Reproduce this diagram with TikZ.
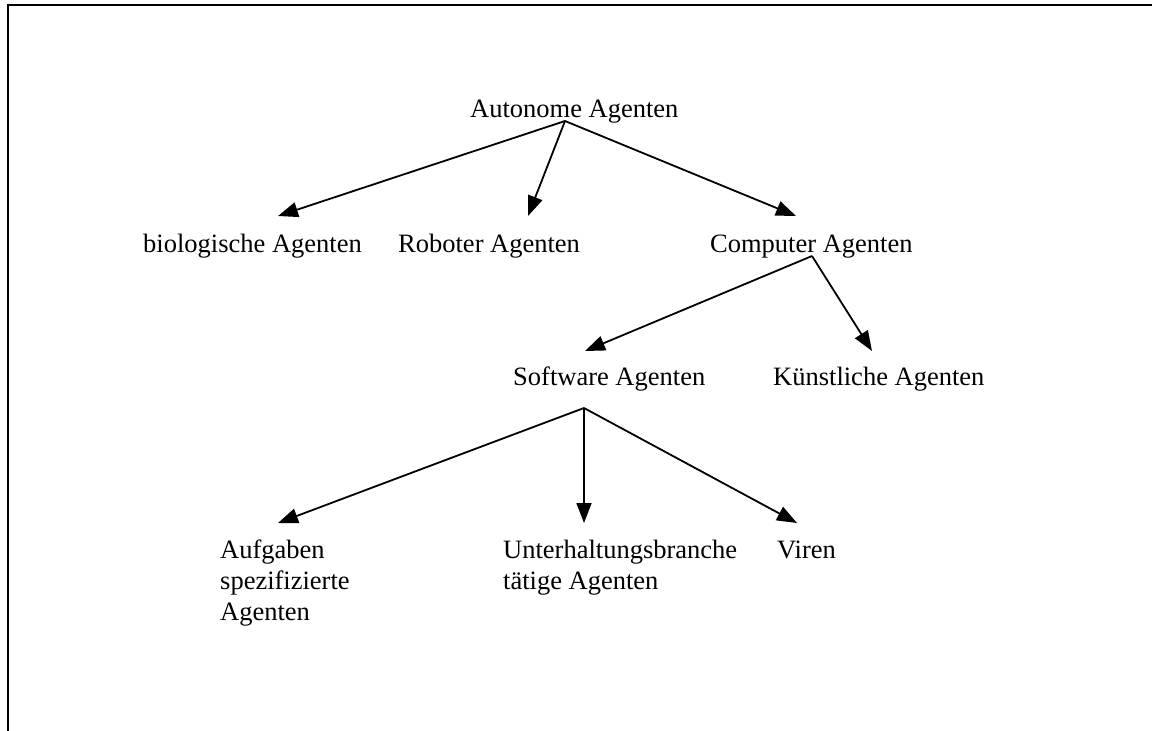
\documentclass[tikz,border=0pt]{standalone}
\usepackage{fontspec}
\setmainfont{Liberation Serif}
\usetikzlibrary{arrows.meta}
\begin{document}
\begin{tikzpicture}[x=1pt,y=-1pt,
  label/.style={anchor=base west,inner sep=0pt,align=left,
    font=\fontsize{26.5}{31}\selectfont},
  arr/.style={line width=1.8pt,-{Triangle[length=20pt,width=15pt]}},
  frame/.style={line width=2pt}]
\useasboundingbox (0,0) rectangle (1152,731);
% open frame: top and left edges only
\draw[frame] (8,731) -- (8,5) -- (1152,5);

% text nodes (multi-line labels sit on the baseline of their last line)
\node[label] (auto) at (470,117) {Autonome Agenten};
\node[label] (bio)  at (143,252) {biologische Agenten};
\node[label] (rob)  at (398,252) {Roboter Agenten};
\node[label] (comp) at (710,252) {Computer Agenten};
\node[label] (soft) at (513,385) {Software Agenten};
\node[label] (kuen) at (773,385) {Künstliche Agenten};
\node[label] (aufg) at (220,620) {Aufgaben\\spezifizierte\\Agenten};
\node[label] (unt)  at (503,589) {Unterhaltungsbranche\\tätige Agenten};
\node[label] (vir)  at (777,558) {Viren};

% branching points and arrow tips
\coordinate (autoJ) at (565,121);
\coordinate (compJ) at (812,256);
\coordinate (softJ) at (584,408);
\coordinate (bioT)  at (278,216);
\coordinate (robT)  at (528,216);
\coordinate (compT) at (796,216);
\coordinate (softT) at (585,351);
\coordinate (kuenT) at (872,351);
\coordinate (aufgT) at (278,523);
\coordinate (untT)  at (584,523);
\coordinate (virT)  at (797,523);

\draw[arr] (autoJ) -- (bioT);
\draw[arr] (autoJ) -- (robT);
\draw[arr] (autoJ) -- (compT);
\draw[arr] (compJ) -- (softT);
\draw[arr] (compJ) -- (kuenT);
\draw[arr] (softJ) -- (aufgT);
\draw[arr] (softJ) -- (untT);
\draw[arr] (softJ) -- (virT);
\end{tikzpicture}
\end{document}
